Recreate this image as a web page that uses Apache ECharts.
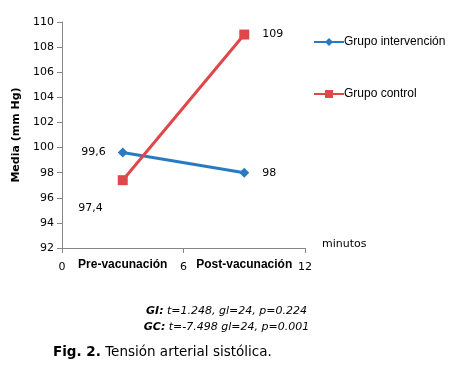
<!DOCTYPE html>
<html><head><meta charset="utf-8">
<script src="https://cdn.jsdelivr.net/npm/echarts@6/dist/echarts.min.js"></script>
<style>html,body{margin:0;padding:0;background:#fff}#c{width:453px;height:376px}</style>
</head><body><div id="c"></div>
<script>
const categories = ['Pre-vacunación', 'Post-vacunación'];
const categoryX = [3, 9];
const intervencion = [99.6, 98];
const control = [97.4, 109];
const seriesNames = ['Grupo intervención', 'Grupo control'];
const xTicks = [0, 6, 12];
const yTicks = [92, 94, 96, 98, 100, 102, 104, 106, 108, 110];

const F = 'DejaVu Sans, Verdana, sans-serif';
const A = 'Liberation Sans, Arial, sans-serif';
const fmt = v => String(v).replace('.', ',');
const chart = echarts.init(document.getElementById('c'));
chart.setOption({
  animation: false,
  grid: { left: 62, top: 22, right: 148, bottom: 128 },
  xAxis: [{
    type: 'value', min: xTicks[0], max: xTicks[xTicks.length - 1], interval: 6,
    name: 'minutos', nameLocation: 'end', nameGap: 17,
    nameTextStyle: { fontFamily: F, fontSize: 11, color: '#000', verticalAlign: 'bottom', lineHeight: 7 },
    axisLine: { lineStyle: { color: '#868686', width: 1 } },
    axisTick: { show: true, length: 5, lineStyle: { color: '#868686' } },
    axisLabel: { fontFamily: F, fontSize: 11, color: '#000', margin: 14 },
    splitLine: { show: false }
  }, {
    type: 'value', min: xTicks[0], max: xTicks[xTicks.length - 1], position: 'bottom',
    axisLine: { show: false }, axisTick: { show: false }, splitLine: { show: false },
    axisLabel: {
      customValues: categoryX, fontFamily: A, fontSize: 12, fontWeight: 'bold', color: '#000', margin: 11,
      formatter: v => { const i = categoryX.indexOf(v); return i >= 0 ? categories[i] : ''; }
    }
  }],
  yAxis: {
    type: 'value', min: yTicks[0], max: yTicks[yTicks.length - 1], interval: 2,
    name: 'Media (mm Hg)', nameLocation: 'middle', nameGap: 38,
    nameTextStyle: { fontFamily: F, fontSize: 11, fontWeight: 'bold', color: '#000' },
    axisLine: { show: true, lineStyle: { color: '#868686', width: 1 } },
    axisTick: { show: true, length: 5, lineStyle: { color: '#868686' } },
    axisLabel: { fontFamily: F, fontSize: 11, color: '#000', margin: 8 },
    splitLine: { show: false }
  },
  legend: {
    orient: 'vertical', left: 308, top: 31, itemGap: 40, itemWidth: 30, itemHeight: 10,
    textStyle: { fontFamily: A, fontSize: 12, color: '#000', padding: [0,0,0,-5] },
    data: seriesNames
  },
  series: [{
    name: seriesNames[0], type: 'line', symbol: 'diamond', symbolSize: 10,
    lineStyle: { width: 3, color: '#2A7AC2' }, itemStyle: { color: '#2A7AC2' },
    data: intervencion.map((v, i) => ({
      value: [categoryX[i], v],
      label: i === 0 ? { show: true, position: 'left', distance: 12 } : { show: true, position: 'right', distance: 13 }
    })),
    label: { fontFamily: F, fontSize: 11, color: '#000', formatter: p => fmt(p.value[1]) }
  }, {
    name: seriesNames[1], type: 'line', symbol: 'rect', symbolSize: 10,
    lineStyle: { width: 3, color: '#E0474A' }, itemStyle: { color: '#E0474A' },
    data: control.map((v, i) => ({
      value: [categoryX[i], v],
      label: i === 0 ? { show: true, position: 'left', distance: 15, offset: [0, 28] } : { show: true, position: 'right', distance: 13 }
    })),
    label: { fontFamily: F, fontSize: 11, color: '#000', formatter: p => fmt(p.value[1]) }
  }],
  graphic: [{
    type: 'text', left: 'center', top: 306,
    style: { text: '{b|GI:} t=1.248, gl=24, p=0.224', fill: '#000', font: 'italic 11px ' + F,
      rich: { b: { fontFamily: F, fontSize: 11, fontWeight: 'bold', fontStyle: 'italic' } } }
  }, {
    type: 'text', left: 'center', top: 322,
    style: { text: '{b|GC:} t=-7.498 gl=24, p=0.001', fill: '#000', font: 'italic 11px ' + F,
      rich: { b: { fontFamily: F, fontSize: 11, fontWeight: 'bold', fontStyle: 'italic' } } }
  }, {
    type: 'text', left: 53, top: 345,
    style: { text: '{b|Fig. 2.} Tensión arterial sistólica.', fill: '#000', font: '13.5px ' + F,
      rich: { b: { fontFamily: F, fontSize: 13.5, fontWeight: 'bold' } } }
  }]
});
</script></body></html>
